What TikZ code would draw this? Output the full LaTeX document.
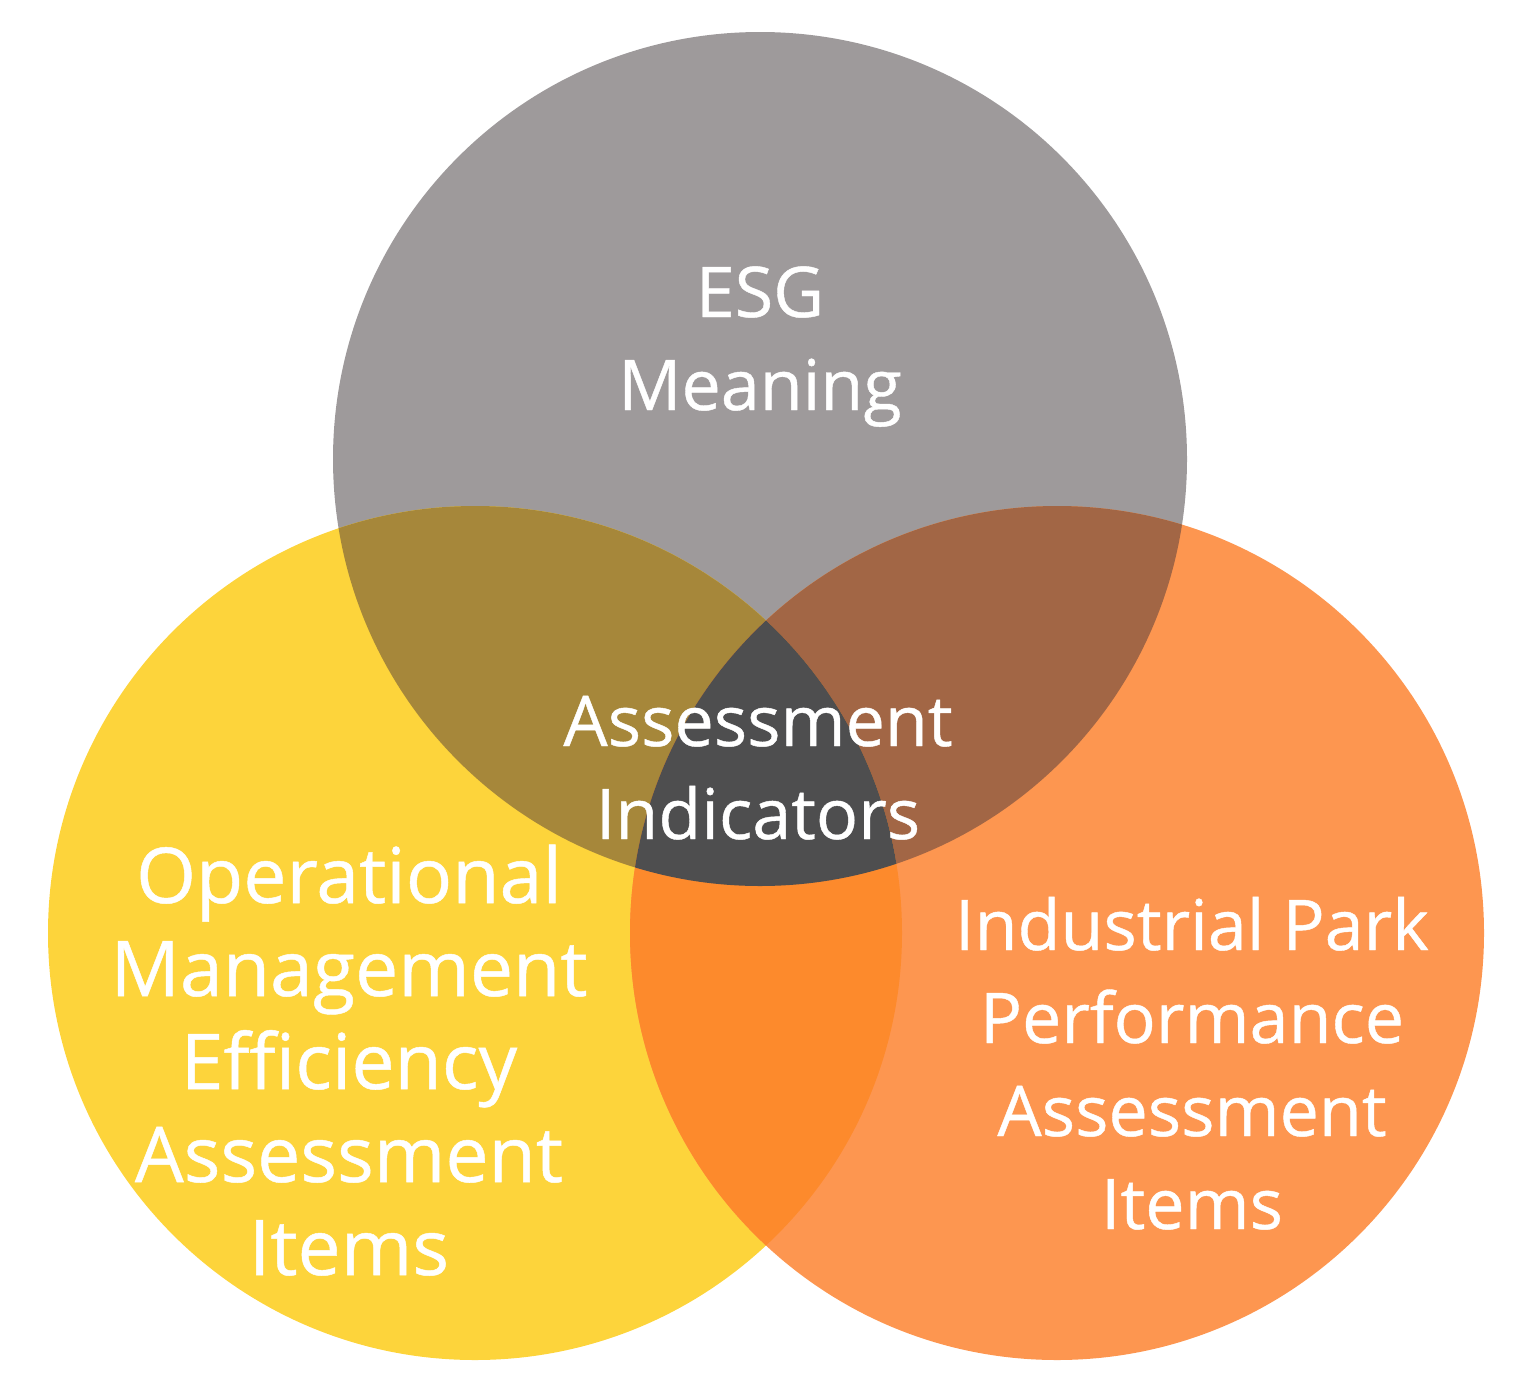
\documentclass[tikz,border=0pt]{standalone}
\usepackage{fontspec}
\setmainfont{Open Sans}[FakeBold=0.6]
\definecolor{esggray}{HTML}{9E9A9B}
\definecolor{opyellow}{HTML}{FDD43B}
\definecolor{parkorange}{HTML}{FD9650}
\definecolor{grayyellow}{HTML}{A6873A}
\definecolor{grayorange}{HTML}{A26645}
\definecolor{yelloworange}{HTML}{FD8A2C}
\definecolor{coregray}{HTML}{4E4E4F}
\tikzset{
  vlabel/.style={text=white, align=center, anchor=base,
    font=\fontsize{35pt}{46.5pt}\selectfont},
  biglabel/.style={vlabel, font=\fontsize{38.5pt}{46.5pt}\selectfont},
}
\begin{document}
\begin{tikzpicture}[x=0.5pt, y=-0.5pt]
				\useasboundingbox (0, 0) rectangle (1519, 1397);
				\coordinate (T) at (760, 459);
				\coordinate (L) at (475, 933);
				\coordinate (R) at (1057, 933);
				\def\rad{213.5pt}
				\fill[esggray] (T) circle[radius=\rad];
				\fill[opyellow] (L) circle[radius=\rad];
				\fill[parkorange] (R) circle[radius=\rad];
				% pairwise overlaps
				\begin{scope}
					\clip (T) circle[radius=\rad];
					\fill[grayyellow] (L) circle[radius=\rad];
					\fill[grayorange] (R) circle[radius=\rad];
				\end{scope}
				\begin{scope}
					\clip (L) circle[radius=\rad];
					\fill[yelloworange] (R) circle[radius=\rad];
				\end{scope}
				% centre
				\begin{scope}
					\clip (T) circle[radius=\rad];
					\clip (L) circle[radius=\rad];
					\fill[coregray] (R) circle[radius=\rad];
				\end{scope}
				% labels, anchored at the baseline of their last line
				\node[vlabel] (esg) at (760, 410) {ESG\\Meaning};
				\node[vlabel] (core) at (758, 839) {Assessment\\Indicators};
				\node[biglabel] (ops) at (349, 1275) {Operational\\Management\\Efficiency\\Assessment\\Items};
				\node[vlabel] (park) at (1192, 1229) {Industrial Park\\Performance\\Assessment\\Items};
			\end{tikzpicture}
\end{document}
